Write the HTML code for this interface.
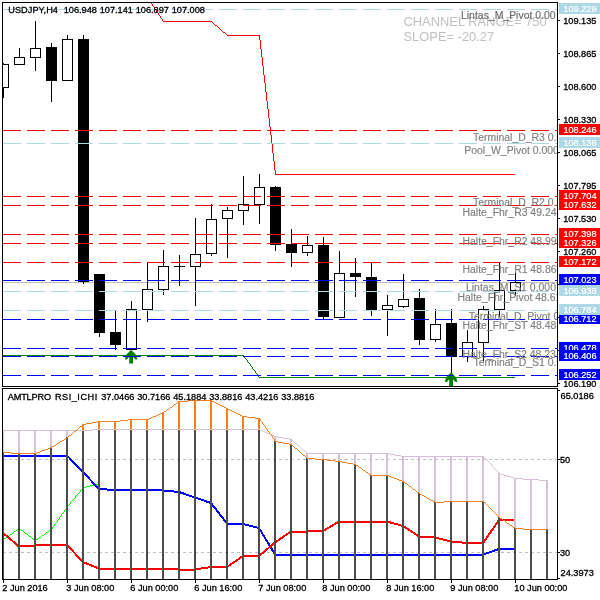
<!DOCTYPE html>
<html lang="en"><head><meta charset="utf-8"><title>USDJPY,H4</title>
<style>html,body{margin:0;padding:0;background:#fff}body{width:600px;height:600px;overflow:hidden}svg{display:block}text{font-family:"Liberation Sans",sans-serif}.c{shape-rendering:crispEdges}.ax{font-size:9px;fill:#000;stroke:#000;stroke-width:.3px;}.bx{font-size:9px;fill:#fff;stroke:#fff;stroke-width:.2px;}.lb{font-size:10.45px;fill:#808080;stroke:#808080;stroke-width:.15px}.ch{font-size:12.9px;fill:#c0c0c0}</style></head><body>
<svg width="600" height="600" viewBox="0 0 600 600">
<defs><clipPath id="m"><rect x="3" y="3" width="554" height="383"/></clipPath><clipPath id="s"><rect x="3" y="389" width="554" height="190"/></clipPath><clipPath id="r"><rect x="558" y="0" width="42" height="387"/></clipPath></defs>
<rect x="0" y="0" width="600" height="600" fill="#fff"/>
<g class="c" clip-path="url(#m)">
<rect x="3" y="282" width="554" height="1" fill="#C0C0C0"/>
<rect x="3" y="63" width="1" height="35" fill="#000"/>
<rect x="-2" y="64" width="11" height="24" fill="#000"/>
<rect x="-1" y="65" width="9" height="22" fill="#fff"/>
<rect x="19" y="48" width="1" height="17" fill="#000"/>
<rect x="14" y="57" width="11" height="8" fill="#000"/>
<rect x="15" y="58" width="9" height="6" fill="#fff"/>
<rect x="35" y="21" width="1" height="50" fill="#000"/>
<rect x="30" y="48" width="11" height="10" fill="#000"/>
<rect x="31" y="49" width="9" height="8" fill="#fff"/>
<rect x="51" y="43" width="1" height="59" fill="#000"/>
<rect x="46" y="47" width="11" height="34" fill="#000"/>
<rect x="67" y="35" width="1" height="46" fill="#000"/>
<rect x="62" y="39" width="11" height="42" fill="#000"/>
<rect x="63" y="40" width="9" height="40" fill="#fff"/>
<rect x="83" y="35" width="1" height="249" fill="#000"/>
<rect x="78" y="39" width="11" height="243" fill="#000"/>
<rect x="99" y="274" width="1" height="63" fill="#000"/>
<rect x="94" y="274" width="11" height="59" fill="#000"/>
<rect x="115" y="311" width="1" height="39" fill="#000"/>
<rect x="110" y="332" width="11" height="13" fill="#000"/>
<rect x="131" y="301" width="1" height="49" fill="#000"/>
<rect x="126" y="309" width="11" height="41" fill="#000"/>
<rect x="127" y="310" width="9" height="39" fill="#fff"/>
<rect x="147" y="262" width="1" height="60" fill="#000"/>
<rect x="142" y="289" width="11" height="21" fill="#000"/>
<rect x="143" y="290" width="9" height="19" fill="#fff"/>
<rect x="163" y="250" width="1" height="45" fill="#000"/>
<rect x="158" y="266" width="11" height="24" fill="#000"/>
<rect x="159" y="267" width="9" height="22" fill="#fff"/>
<rect x="179" y="255" width="1" height="31" fill="#000"/>
<rect x="174" y="266" width="11" height="1" fill="#000"/>
<rect x="195" y="218" width="1" height="88" fill="#000"/>
<rect x="190" y="254" width="11" height="13" fill="#000"/>
<rect x="191" y="255" width="9" height="11" fill="#fff"/>
<rect x="211" y="204" width="1" height="52" fill="#000"/>
<rect x="206" y="219" width="11" height="35" fill="#000"/>
<rect x="207" y="220" width="9" height="33" fill="#fff"/>
<rect x="227" y="207" width="1" height="51" fill="#000"/>
<rect x="222" y="210" width="11" height="9" fill="#000"/>
<rect x="223" y="211" width="9" height="7" fill="#fff"/>
<rect x="243" y="176" width="1" height="49" fill="#000"/>
<rect x="238" y="204" width="11" height="7" fill="#000"/>
<rect x="239" y="205" width="9" height="5" fill="#fff"/>
<rect x="259" y="174" width="1" height="50" fill="#000"/>
<rect x="254" y="187" width="11" height="18" fill="#000"/>
<rect x="255" y="188" width="9" height="16" fill="#fff"/>
<rect x="275" y="186" width="1" height="65" fill="#000"/>
<rect x="270" y="187" width="11" height="58" fill="#000"/>
<rect x="291" y="229" width="1" height="38" fill="#000"/>
<rect x="286" y="244" width="11" height="9" fill="#000"/>
<rect x="307" y="236" width="1" height="20" fill="#000"/>
<rect x="302" y="245" width="11" height="8" fill="#000"/>
<rect x="303" y="246" width="9" height="6" fill="#fff"/>
<rect x="323" y="237" width="1" height="83" fill="#000"/>
<rect x="318" y="245" width="11" height="72" fill="#000"/>
<rect x="339" y="251" width="1" height="67" fill="#000"/>
<rect x="334" y="273" width="11" height="45" fill="#000"/>
<rect x="335" y="274" width="9" height="43" fill="#fff"/>
<rect x="355" y="258" width="1" height="39" fill="#000"/>
<rect x="350" y="273" width="11" height="4" fill="#000"/>
<rect x="371" y="262" width="1" height="54" fill="#000"/>
<rect x="366" y="277" width="11" height="33" fill="#000"/>
<rect x="387" y="295" width="1" height="41" fill="#000"/>
<rect x="382" y="305" width="11" height="5" fill="#000"/>
<rect x="383" y="306" width="9" height="3" fill="#fff"/>
<rect x="403" y="274" width="1" height="34" fill="#000"/>
<rect x="398" y="299" width="11" height="8" fill="#000"/>
<rect x="399" y="300" width="9" height="6" fill="#fff"/>
<rect x="419" y="289" width="1" height="56" fill="#000"/>
<rect x="414" y="298" width="11" height="42" fill="#000"/>
<rect x="435" y="309" width="1" height="33" fill="#000"/>
<rect x="430" y="324" width="11" height="16" fill="#000"/>
<rect x="431" y="325" width="9" height="14" fill="#fff"/>
<rect x="451" y="309" width="1" height="64" fill="#000"/>
<rect x="446" y="323" width="11" height="34" fill="#000"/>
<rect x="467" y="330" width="1" height="32" fill="#000"/>
<rect x="462" y="342" width="11" height="15" fill="#000"/>
<rect x="463" y="343" width="9" height="13" fill="#fff"/>
<rect x="483" y="306" width="1" height="55" fill="#000"/>
<rect x="478" y="309" width="11" height="34" fill="#000"/>
<rect x="479" y="310" width="9" height="32" fill="#fff"/>
<rect x="499" y="262" width="1" height="55" fill="#000"/>
<rect x="494" y="290" width="11" height="20" fill="#000"/>
<rect x="495" y="291" width="9" height="18" fill="#fff"/>
<rect x="515" y="273" width="1" height="23" fill="#000"/>
<rect x="510" y="282" width="11" height="9" fill="#000"/>
<rect x="511" y="283" width="9" height="7" fill="#fff"/>
<path d="M163 21h49v1h-49zM215 25h2v1h-2zM223 32h2v1h-2zM227 35h33v1h-33zM275 174h240v1h-240zM147 -3h1v1h-1zM148 -2h1v2h-1zM149 0h1v1h-1zM150 1h1v2h-1zM151 3h1v1h-1zM152 4h1v2h-1zM153 6h1v1h-1zM154 7h1v2h-1zM155 9h1v1h-1zM156 10h1v2h-1zM157 12h1v1h-1zM158 13h1v2h-1zM159 15h1v1h-1zM160 16h1v2h-1zM161 18h1v1h-1zM162 19h1v2h-1zM212 22h1v1h-1zM213 23h1v1h-1zM214 24h1v1h-1zM217 26h1v1h-1zM218 27h1v1h-1zM219 28h1v1h-1zM220 29h1v1h-1zM221 30h1v1h-1zM222 31h1v1h-1zM225 33h1v1h-1zM226 34h1v1h-1zM259 36h1v4h-1zM260 40h1v9h-1zM261 49h1v8h-1zM262 57h1v9h-1zM263 66h1v9h-1zM264 75h1v8h-1zM265 83h1v9h-1zM266 92h1v9h-1zM267 101h1v8h-1zM268 109h1v9h-1zM269 118h1v9h-1zM270 127h1v8h-1zM271 135h1v9h-1zM272 144h1v9h-1zM273 153h1v8h-1zM274 161h1v9h-1zM275 170h1v4h-1z" fill="#FF0000"/>
<path d="M3 355h241v1h-241zM259 377h256v1h-256zM244 356h1v2h-1zM245 358h1v1h-1zM246 359h1v1h-1zM247 360h1v2h-1zM248 362h1v1h-1zM249 363h1v1h-1zM250 364h1v2h-1zM251 366h1v1h-1zM252 367h1v2h-1zM253 369h1v1h-1zM254 370h1v1h-1zM255 371h1v2h-1zM256 373h1v1h-1zM257 374h1v1h-1zM258 375h1v2h-1z" fill="#008000"/>
<path shape-rendering="auto" d="M131.1 349.8L136.4 355.3L137.2 359.6H135.29999999999998L133.0 356.8V363.6H129.2V356.8L126.89999999999999 359.6H125.0L125.8 355.3Z" fill="#008000"/>
<path shape-rendering="auto" d="M451.1 372.3L456.40000000000003 377.8L457.20000000000005 382.1H455.3L453.0 379.3V386.1H449.20000000000005V379.3L446.90000000000003 382.1H445.0L445.8 377.8Z" fill="#008000"/>
<path d="M3 9.5H557" stroke="#ADD8E6" stroke-width="1" stroke-dasharray="18 6" fill="none"/>
<path d="M3 130.5H557" stroke="#FF0000" stroke-width="1" stroke-dasharray="18 6" fill="none"/>
<path d="M3 143.5H557" stroke="#ADD8E6" stroke-width="1" stroke-dasharray="18 6" fill="none"/>
<path d="M3 196.5H557" stroke="#FF0000" stroke-width="1" stroke-dasharray="18 6" fill="none"/>
<path d="M3 205.5H557" stroke="#FF0000" stroke-width="1" stroke-dasharray="18 6" fill="none"/>
<path d="M3 234.5H557" stroke="#FF0000" stroke-width="1" stroke-dasharray="18 6" fill="none"/>
<path d="M3 243.5H557" stroke="#FF0000" stroke-width="1" stroke-dasharray="18 6" fill="none"/>
<path d="M3 262.5H557" stroke="#FF0000" stroke-width="1" stroke-dasharray="18 6" fill="none"/>
<path d="M3 280.5H557" stroke="#0000FF" stroke-width="1" stroke-dasharray="18 6" fill="none"/>
<path d="M3 291.5H557" stroke="#ADD8E6" stroke-width="1" stroke-dasharray="18 6" fill="none"/>
<path d="M3 310.5H557" stroke="#ADD8E6" stroke-width="1" stroke-dasharray="18 6" fill="none"/>
<path d="M3 319.5H557" stroke="#0000FF" stroke-width="1" stroke-dasharray="18 6" fill="none"/>
<path d="M3 348.5H557" stroke="#0000FF" stroke-width="1" stroke-dasharray="18 6" fill="none"/>
<path d="M3 356.5H557" stroke="#0000FF" stroke-width="1" stroke-dasharray="18 6" fill="none"/>
<path d="M3 375.5H557" stroke="#0000FF" stroke-width="1" stroke-dasharray="18 6" fill="none"/>
</g>
<g clip-path="url(#m)">
<text class="ch" x="403.5" y="26.2">CHANNEL RANGE= 750</text>
<text class="ch" x="403.5" y="40.7">SLOPE= -20.27</text>
<text class="lb" x="461" y="19.3" style="fill:#6a6a6a;stroke:#6a6a6a">Lintas_M_Pivot 0.00</text>
<text class="lb" x="473" y="140.7">Terminal_D_R3 0.00</text>
<text class="lb" x="464.3" y="153.7">Pool_W_Pivot 0.000</text>
<text class="lb" x="473" y="206.3">Terminal_D_R2 0.00</text>
<text class="lb" x="462.5" y="215.5">Halte_Fhr_R3 49.24</text>
<text class="lb" x="462.5" y="244.5">Halte_Fhr_R2 48.99</text>
<text class="lb" x="462.5" y="272.5">Halte_Fhr_R1 48.86</text>
<text class="lb" x="466" y="291.2">Lintas_M_S1 0.000</text>
<text class="lb" x="457.5" y="301.2">Halte_Fhr_Pivot 48.61</text>
<text class="lb" x="468.7" y="320">Terminal_D_Pivot 0.00</text>
<text class="lb" x="462.5" y="329.2">Halte_Fhr_ST 48.48</text>
<text class="lb" x="462.5" y="357.5">Halte_Fhr_S2 48.23</text>
<text class="lb" x="473.5" y="366.2">Terminal_D_S1 0.00</text>
<text class="ax" transform="translate(8.3 13.4) scale(1.02 1.075)" textLength="48.63" lengthAdjust="spacing">USDJPY,H4</text>
<text class="ax" transform="translate(63.7 13.4) scale(1.02 1.075)">106.948</text>
<text class="ax" transform="translate(99.7 13.4) scale(1.02 1.075)">107.141</text>
<text class="ax" transform="translate(135.7 13.4) scale(1.02 1.075)">106.897</text>
<text class="ax" transform="translate(171.7 13.4) scale(1.02 1.075)">107.008</text>
</g>
<g class="c" clip-path="url(#s)">
<path d="M3 459.5H557" stroke="#C0C0C0" stroke-width="1" stroke-dasharray="3 3" fill="none"/>
<path d="M3 552.5H557" stroke="#C0C0C0" stroke-width="1" stroke-dasharray="3 3" fill="none"/>
<path d="M98 483h2v1h-2zM94 484h4v1h-4zM90 485h4v1h-4zM86 486h4v1h-4zM83 487h3v1h-3zM17 529h2v1h-2zM21 530h2v1h-2zM49 530h2v1h-2zM14 531h2v1h-2zM46 532h2v1h-2zM25 533h2v1h-2zM10 534h2v1h-2zM42 535h2v1h-2zM7 536h2v1h-2zM29 536h2v1h-2zM39 537h2v1h-2zM4 538h2v1h-2zM33 539h2v1h-2zM36 539h2v1h-2zM3 539h1v1h-1zM6 537h1v1h-1zM9 535h1v1h-1zM12 533h1v1h-1zM13 532h1v1h-1zM16 530h1v1h-1zM19 528h1v1h-1zM20 529h1v1h-1zM23 531h1v1h-1zM24 532h1v1h-1zM27 534h1v1h-1zM28 535h1v1h-1zM31 537h1v1h-1zM32 538h1v1h-1zM35 540h1v1h-1zM38 538h1v1h-1zM41 536h1v1h-1zM44 534h1v1h-1zM45 533h1v1h-1zM48 531h1v1h-1zM51 529h1v1h-1zM52 527h1v2h-1zM53 526h1v1h-1zM54 524h1v2h-1zM55 523h1v1h-1zM56 522h1v1h-1zM57 520h1v2h-1zM58 519h1v1h-1zM59 517h1v2h-1zM60 516h1v1h-1zM61 514h1v2h-1zM62 513h1v1h-1zM63 512h1v1h-1zM64 510h1v2h-1zM65 509h1v1h-1zM66 507h1v2h-1zM67 506h1v1h-1zM68 505h1v1h-1zM69 504h1v1h-1zM70 502h1v2h-1zM71 501h1v1h-1zM72 500h1v1h-1zM73 499h1v1h-1zM74 498h1v1h-1zM75 496h1v2h-1zM76 495h1v1h-1zM77 494h1v1h-1zM78 493h1v1h-1zM79 492h1v1h-1zM80 490h1v2h-1zM81 489h1v1h-1zM82 488h1v1h-1z" fill="#00FF00"/>
<polyline points="3,455.5 67,455.5 83,472 99,489 115,490 163,490.4 179,492 195,497.5 211,503 227,523.5 243,524 259,528 275,554.5 483,554.5 499,549 514,549" fill="none" stroke="#0000FF" stroke-width="2"/>
<polyline points="3,533 19,546.5 35,545.5 51,545 67,545 83,562 99,568.5 163,568.5 179,569.5 195,569.5 211,567 227,567 243,556 259,556 275,542.5 291,531.5 307,531.5 323,531 339,521.5 387,521.5 403,526 419,536.5 435,537.5 451,541.5 467,543 483,543 499,520 514,520" fill="none" stroke="#FF0000" stroke-width="2"/>
<rect x="2" y="452" width="2" height="127" fill="#4c4c4c"/>
<rect x="2" y="430" width="2" height="22" fill="#D8BFD8"/>
<rect x="18" y="453" width="2" height="126" fill="#4c4c4c"/>
<rect x="18" y="430" width="2" height="23" fill="#D8BFD8"/>
<rect x="34" y="453" width="2" height="126" fill="#4c4c4c"/>
<rect x="34" y="430" width="2" height="23" fill="#D8BFD8"/>
<rect x="50" y="447" width="2" height="132" fill="#4c4c4c"/>
<rect x="50" y="430" width="2" height="17" fill="#D8BFD8"/>
<rect x="66" y="437" width="2" height="142" fill="#4c4c4c"/>
<rect x="66" y="430" width="2" height="7" fill="#D8BFD8"/>
<rect x="82" y="430" width="2" height="149" fill="#4c4c4c"/>
<rect x="82" y="424" width="2" height="6" fill="#F08020"/>
<rect x="98" y="429" width="2" height="150" fill="#4c4c4c"/>
<rect x="98" y="421" width="2" height="8" fill="#F08020"/>
<rect x="114" y="429" width="2" height="150" fill="#4c4c4c"/>
<rect x="114" y="421" width="2" height="8" fill="#F08020"/>
<rect x="130" y="429" width="2" height="150" fill="#4c4c4c"/>
<rect x="130" y="419" width="2" height="10" fill="#F08020"/>
<rect x="146" y="429" width="2" height="150" fill="#4c4c4c"/>
<rect x="146" y="419" width="2" height="10" fill="#F08020"/>
<rect x="162" y="429" width="2" height="150" fill="#4c4c4c"/>
<rect x="162" y="412" width="2" height="17" fill="#F08020"/>
<rect x="178" y="429" width="2" height="150" fill="#4c4c4c"/>
<rect x="178" y="401" width="2" height="28" fill="#F08020"/>
<rect x="194" y="429" width="2" height="150" fill="#4c4c4c"/>
<rect x="194" y="400" width="2" height="29" fill="#F08020"/>
<rect x="210" y="429" width="2" height="150" fill="#4c4c4c"/>
<rect x="210" y="400" width="2" height="29" fill="#F08020"/>
<rect x="226" y="429" width="2" height="150" fill="#4c4c4c"/>
<rect x="226" y="408" width="2" height="21" fill="#F08020"/>
<rect x="242" y="429" width="2" height="150" fill="#4c4c4c"/>
<rect x="242" y="416" width="2" height="13" fill="#F08020"/>
<rect x="258" y="429" width="2" height="150" fill="#4c4c4c"/>
<rect x="258" y="418" width="2" height="11" fill="#F08020"/>
<rect x="274" y="441" width="2" height="138" fill="#4c4c4c"/>
<rect x="274" y="436" width="2" height="5" fill="#D8BFD8"/>
<rect x="290" y="444" width="2" height="135" fill="#4c4c4c"/>
<rect x="290" y="439" width="2" height="5" fill="#D8BFD8"/>
<rect x="306" y="458" width="2" height="121" fill="#4c4c4c"/>
<rect x="306" y="453" width="2" height="5" fill="#D8BFD8"/>
<rect x="322" y="459" width="2" height="120" fill="#4c4c4c"/>
<rect x="322" y="453" width="2" height="6" fill="#D8BFD8"/>
<rect x="338" y="461" width="2" height="118" fill="#4c4c4c"/>
<rect x="338" y="453" width="2" height="8" fill="#D8BFD8"/>
<rect x="354" y="464" width="2" height="115" fill="#4c4c4c"/>
<rect x="354" y="453" width="2" height="11" fill="#D8BFD8"/>
<rect x="370" y="475" width="2" height="104" fill="#4c4c4c"/>
<rect x="370" y="453" width="2" height="22" fill="#D8BFD8"/>
<rect x="386" y="475" width="2" height="104" fill="#4c4c4c"/>
<rect x="386" y="453" width="2" height="22" fill="#D8BFD8"/>
<rect x="402" y="481" width="2" height="98" fill="#4c4c4c"/>
<rect x="402" y="456" width="2" height="25" fill="#D8BFD8"/>
<rect x="418" y="493" width="2" height="86" fill="#4c4c4c"/>
<rect x="418" y="456" width="2" height="37" fill="#D8BFD8"/>
<rect x="434" y="502" width="2" height="77" fill="#4c4c4c"/>
<rect x="434" y="456" width="2" height="46" fill="#D8BFD8"/>
<rect x="450" y="501" width="2" height="78" fill="#4c4c4c"/>
<rect x="450" y="456" width="2" height="45" fill="#D8BFD8"/>
<rect x="466" y="501" width="2" height="78" fill="#4c4c4c"/>
<rect x="466" y="456" width="2" height="45" fill="#D8BFD8"/>
<rect x="482" y="501" width="2" height="78" fill="#4c4c4c"/>
<rect x="482" y="456" width="2" height="45" fill="#D8BFD8"/>
<rect x="498" y="517" width="2" height="62" fill="#4c4c4c"/>
<rect x="498" y="473" width="2" height="44" fill="#D8BFD8"/>
<rect x="514" y="528" width="2" height="51" fill="#4c4c4c"/>
<rect x="514" y="478" width="2" height="50" fill="#D8BFD8"/>
<rect x="530" y="529" width="2" height="50" fill="#4c4c4c"/>
<rect x="530" y="479" width="2" height="50" fill="#D8BFD8"/>
<rect x="546" y="529" width="2" height="50" fill="#4c4c4c"/>
<rect x="546" y="480" width="2" height="49" fill="#D8BFD8"/>
<path d="M92 429h169v1h-169zM3 430h89v1h-89zM261 430h2v1h-2zM263 431h2v1h-2zM265 432h2v1h-2zM267 433h3v1h-3zM270 434h2v1h-2zM272 435h2v1h-2zM274 436h4v1h-4zM278 437h5v1h-5zM283 438h6v1h-6zM289 439h3v1h-3zM295 443h2v1h-2zM303 450h2v1h-2zM307 453h83v1h-83zM390 454h5v1h-5zM395 455h6v1h-6zM401 456h83v1h-83zM499 473h2v1h-2zM501 474h3v1h-3zM504 475h3v1h-3zM507 476h4v1h-4zM511 477h3v1h-3zM514 478h9v1h-9zM523 479h16v1h-16zM539 480h9v1h-9zM292 440h1v1h-1zM293 441h1v1h-1zM294 442h1v1h-1zM297 444h1v1h-1zM298 445h1v1h-1zM299 446h1v1h-1zM300 447h1v1h-1zM301 448h1v1h-1zM302 449h1v1h-1zM305 451h1v1h-1zM306 452h1v1h-1zM484 457h1v1h-1zM485 458h1v1h-1zM486 459h1v1h-1zM487 460h1v1h-1zM488 461h1v1h-1zM489 462h1v1h-1zM490 463h1v1h-1zM491 464h1v2h-1zM492 466h1v1h-1zM493 467h1v1h-1zM494 468h1v1h-1zM495 469h1v1h-1zM496 470h1v1h-1zM497 471h1v1h-1zM498 472h1v1h-1z" fill="#D8BFD8"/>
<path d="M188 400h24v1h-24zM179 401h9v1h-9zM212 401h2v1h-2zM177 402h2v1h-2zM214 402h2v1h-2zM216 403h2v1h-2zM174 404h2v1h-2zM218 404h2v1h-2zM220 405h2v1h-2zM222 406h2v1h-2zM170 407h2v1h-2zM224 407h2v1h-2zM226 408h2v1h-2zM167 409h2v1h-2zM228 409h2v1h-2zM230 410h2v1h-2zM164 411h2v1h-2zM232 411h2v1h-2zM162 412h2v1h-2zM234 412h2v1h-2zM160 413h2v1h-2zM236 413h2v1h-2zM158 414h2v1h-2zM238 414h2v1h-2zM156 415h2v1h-2zM240 415h2v1h-2zM153 416h3v1h-3zM242 416h5v1h-5zM151 417h2v1h-2zM247 417h8v1h-8zM149 418h2v1h-2zM255 418h5v1h-5zM128 419h21v1h-21zM120 420h8v1h-8zM97 421h23v1h-23zM92 422h5v1h-5zM86 423h6v1h-6zM83 424h3v1h-3zM80 426h2v1h-2zM74 431h2v1h-2zM69 435h2v1h-2zM65 438h2v1h-2zM62 440h2v1h-2zM60 441h2v1h-2zM275 441h3v1h-3zM278 442h5v1h-5zM57 443h2v1h-2zM283 443h6v1h-6zM289 444h3v1h-3zM54 445h2v1h-2zM52 446h2v1h-2zM50 447h2v1h-2zM48 448h2v1h-2zM295 448h2v1h-2zM45 449h3v1h-3zM42 450h3v1h-3zM40 451h2v1h-2zM3 452h8v1h-8zM37 452h3v1h-3zM11 453h26v1h-26zM303 455h2v1h-2zM307 458h8v1h-8zM315 459h12v1h-12zM327 460h8v1h-8zM335 461h7v1h-7zM342 462h5v1h-5zM347 463h6v1h-6zM353 464h3v1h-3zM356 465h2v1h-2zM359 467h2v1h-2zM363 470h2v1h-2zM366 472h2v1h-2zM369 474h2v1h-2zM371 475h18v1h-18zM389 476h2v1h-2zM391 477h3v1h-3zM394 478h3v1h-3zM397 479h2v1h-2zM399 480h3v1h-3zM402 481h2v1h-2zM405 483h2v1h-2zM409 486h2v1h-2zM413 489h2v1h-2zM417 492h2v1h-2zM420 494h2v1h-2zM422 495h2v1h-2zM424 496h2v1h-2zM427 498h2v1h-2zM429 499h2v1h-2zM431 500h2v1h-2zM433 501h2v1h-2zM444 501h40v1h-40zM435 502h9v1h-9zM500 518h2v1h-2zM503 520h2v1h-2zM507 523h2v1h-2zM510 525h2v1h-2zM513 527h2v1h-2zM515 528h8v1h-8zM523 529h25v1h-25zM56 444h1v1h-1zM59 442h1v1h-1zM64 439h1v1h-1zM67 437h1v1h-1zM68 436h1v1h-1zM71 434h1v1h-1zM72 433h1v1h-1zM73 432h1v1h-1zM76 430h1v1h-1zM77 429h1v1h-1zM78 428h1v1h-1zM79 427h1v1h-1zM82 425h1v1h-1zM166 410h1v1h-1zM169 408h1v1h-1zM172 406h1v1h-1zM173 405h1v1h-1zM176 403h1v1h-1zM260 419h1v2h-1zM261 421h1v1h-1zM262 422h1v2h-1zM263 424h1v1h-1zM264 425h1v1h-1zM265 426h1v2h-1zM266 428h1v1h-1zM267 429h1v2h-1zM268 431h1v1h-1zM269 432h1v2h-1zM270 434h1v1h-1zM271 435h1v1h-1zM272 436h1v2h-1zM273 438h1v1h-1zM274 439h1v2h-1zM292 445h1v1h-1zM293 446h1v1h-1zM294 447h1v1h-1zM297 449h1v1h-1zM298 450h1v1h-1zM299 451h1v1h-1zM300 452h1v1h-1zM301 453h1v1h-1zM302 454h1v1h-1zM305 456h1v1h-1zM306 457h1v1h-1zM358 466h1v1h-1zM361 468h1v1h-1zM362 469h1v1h-1zM365 471h1v1h-1zM368 473h1v1h-1zM404 482h1v1h-1zM407 484h1v1h-1zM408 485h1v1h-1zM411 487h1v1h-1zM412 488h1v1h-1zM415 490h1v1h-1zM416 491h1v1h-1zM419 493h1v1h-1zM426 497h1v1h-1zM484 502h1v1h-1zM485 503h1v1h-1zM486 504h1v1h-1zM487 505h1v1h-1zM488 506h1v1h-1zM489 507h1v1h-1zM490 508h1v1h-1zM491 509h1v1h-1zM492 510h1v1h-1zM493 511h1v1h-1zM494 512h1v1h-1zM495 513h1v1h-1zM496 514h1v1h-1zM497 515h1v1h-1zM498 516h1v1h-1zM499 517h1v1h-1zM502 519h1v1h-1zM505 521h1v1h-1zM506 522h1v1h-1zM509 524h1v1h-1zM512 526h1v1h-1z" fill="#F08020"/>
</g>
<text class="ax" transform="translate(7.7 400.3) scale(1.02 1.075)" textLength="42.55" lengthAdjust="spacing">AMTLPRO</text>
<text class="ax" transform="translate(55 400.3) scale(1.02 1.075)" textLength="41.37" lengthAdjust="spacing">RSI_ICHI</text>
<text class="ax" transform="translate(101.2 400.3) scale(1.02 1.075)">37.0466</text>
<text class="ax" transform="translate(137.2 400.3) scale(1.02 1.075)">30.7166</text>
<text class="ax" transform="translate(173.2 400.3) scale(1.02 1.075)">45.1884</text>
<text class="ax" transform="translate(209.2 400.3) scale(1.02 1.075)">33.8816</text>
<text class="ax" transform="translate(245.2 400.3) scale(1.02 1.075)">43.4216</text>
<text class="ax" transform="translate(281.2 400.3) scale(1.02 1.075)">33.8816</text>
<g class="c">
<rect x="2" y="2" width="556" height="1" fill="#000"/>
<rect x="2" y="2" width="1" height="385" fill="#000"/>
<rect x="557" y="2" width="1" height="385" fill="#000"/>
<rect x="2" y="386" width="556" height="1" fill="#000"/>
<rect x="2" y="388" width="556" height="1" fill="#000"/>
<rect x="2" y="388" width="1" height="192" fill="#000"/>
<rect x="557" y="388" width="1" height="192" fill="#000"/>
<rect x="2" y="579" width="556" height="1" fill="#000"/>
<rect x="558" y="20" width="2" height="1" fill="#000"/>
<rect x="558" y="53" width="2" height="1" fill="#000"/>
<rect x="558" y="86" width="2" height="1" fill="#000"/>
<rect x="558" y="119" width="2" height="1" fill="#000"/>
<rect x="558" y="152" width="2" height="1" fill="#000"/>
<rect x="558" y="185" width="2" height="1" fill="#000"/>
<rect x="558" y="218" width="2" height="1" fill="#000"/>
<rect x="558" y="251" width="2" height="1" fill="#000"/>
<rect x="558" y="284" width="2" height="1" fill="#000"/>
<rect x="558" y="317" width="2" height="1" fill="#000"/>
<rect x="558" y="350" width="2" height="1" fill="#000"/>
<rect x="558" y="383" width="2" height="1" fill="#000"/>
<rect x="558" y="390" width="2" height="1" fill="#000"/>
<rect x="558" y="459" width="2" height="1" fill="#000"/>
<rect x="558" y="552" width="2" height="1" fill="#000"/>
<rect x="558" y="578" width="2" height="1" fill="#000"/>
<rect x="3" y="580" width="1" height="3" fill="#000"/>
<rect x="67" y="580" width="1" height="3" fill="#000"/>
<rect x="131" y="580" width="1" height="3" fill="#000"/>
<rect x="195" y="580" width="1" height="3" fill="#000"/>
<rect x="259" y="580" width="1" height="3" fill="#000"/>
<rect x="323" y="580" width="1" height="3" fill="#000"/>
<rect x="387" y="580" width="1" height="3" fill="#000"/>
<rect x="451" y="580" width="1" height="3" fill="#000"/>
<rect x="515" y="580" width="1" height="3" fill="#000"/>
</g>
<g clip-path="url(#r)">
<text class="ax" transform="translate(563.2 23.8) scale(1.02 1.075)">109.135</text>
<text class="ax" transform="translate(563.2 56.8) scale(1.02 1.075)">108.865</text>
<text class="ax" transform="translate(563.2 89.8) scale(1.02 1.075)">108.600</text>
<text class="ax" transform="translate(563.2 122.8) scale(1.02 1.075)">108.330</text>
<text class="ax" transform="translate(563.2 155.8) scale(1.02 1.075)">108.065</text>
<text class="ax" transform="translate(563.2 188.8) scale(1.02 1.075)">107.795</text>
<text class="ax" transform="translate(563.2 221.8) scale(1.02 1.075)">107.530</text>
<text class="ax" transform="translate(563.2 254.8) scale(1.02 1.075)">107.260</text>
<text class="ax" transform="translate(563.2 287.8) scale(1.02 1.075)">106.990</text>
<text class="ax" transform="translate(563.2 320.8) scale(1.02 1.075)">106.725</text>
<text class="ax" transform="translate(563.2 353.8) scale(1.02 1.075)">106.455</text>
<text class="ax" transform="translate(563.2 386.8) scale(1.02 1.075)">106.190</text>
<g class="c">
<rect x="559" y="3" width="41" height="11" fill="#ADD8E6"/>
<rect x="559" y="124" width="41" height="11" fill="#FF0000"/>
<rect x="559" y="137" width="41" height="11" fill="#ADD8E6"/>
<rect x="559" y="190" width="41" height="11" fill="#FF0000"/>
<rect x="559" y="199" width="41" height="11" fill="#FF0000"/>
<rect x="559" y="228" width="41" height="11" fill="#FF0000"/>
<rect x="559" y="237" width="41" height="11" fill="#FF0000"/>
<rect x="559" y="256" width="41" height="11" fill="#FF0000"/>
<rect x="559" y="274" width="41" height="11" fill="#0000FF"/>
<rect x="559" y="285" width="41" height="11" fill="#ADD8E6"/>
<rect x="559" y="313" width="41" height="11" fill="#0000FF"/>
<rect x="559" y="304" width="41" height="11" fill="#ADD8E6"/>
<rect x="559" y="342" width="41" height="11" fill="#0000FF"/>
<rect x="559" y="350" width="41" height="11" fill="#0000FF"/>
<rect x="559" y="369" width="41" height="11" fill="#0000FF"/>
</g>
</g>
<g clip-path="url(#r)">
<rect class="c" x="559" y="3" width="41" height="11" fill="#ADD8E6"/>
<text class="bx" transform="translate(563.4 11.5) scale(1.02 1.075)">109.229</text>
<rect class="c" x="559" y="124" width="41" height="11" fill="#FF0000"/>
<text class="bx" transform="translate(563.4 132.5) scale(1.02 1.075)">108.246</text>
<rect class="c" x="559" y="137" width="41" height="11" fill="#ADD8E6"/>
<text class="bx" transform="translate(563.4 145.5) scale(1.02 1.075)">108.138</text>
<rect class="c" x="559" y="190" width="41" height="11" fill="#FF0000"/>
<text class="bx" transform="translate(563.4 198.5) scale(1.02 1.075)">107.704</text>
<rect class="c" x="559" y="199" width="41" height="11" fill="#FF0000"/>
<text class="bx" transform="translate(563.4 207.5) scale(1.02 1.075)">107.632</text>
<rect class="c" x="559" y="228" width="41" height="11" fill="#FF0000"/>
<text class="bx" transform="translate(563.4 236.5) scale(1.02 1.075)">107.398</text>
<rect class="c" x="559" y="237" width="41" height="11" fill="#FF0000"/>
<text class="bx" transform="translate(563.4 245.5) scale(1.02 1.075)">107.326</text>
<rect class="c" x="559" y="256" width="41" height="11" fill="#FF0000"/>
<text class="bx" transform="translate(563.4 264.5) scale(1.02 1.075)">107.172</text>
<rect class="c" x="559" y="274" width="41" height="11" fill="#0000FF"/>
<text class="bx" transform="translate(563.4 282.5) scale(1.02 1.075)">107.023</text>
<rect class="c" x="559" y="285" width="41" height="11" fill="#ADD8E6"/>
<text class="bx" transform="translate(563.4 293.5) scale(1.02 1.075)">106.938</text>
<rect class="c" x="559" y="313" width="41" height="11" fill="#0000FF"/>
<text class="bx" transform="translate(563.4 321.5) scale(1.02 1.075)">106.712</text>
<rect class="c" x="559" y="304" width="41" height="11" fill="#ADD8E6"/>
<text class="bx" transform="translate(563.4 312.5) scale(1.02 1.075)">106.784</text>
<rect class="c" x="559" y="342" width="41" height="11" fill="#0000FF"/>
<text class="bx" transform="translate(563.4 350.5) scale(1.02 1.075)">106.478</text>
<rect class="c" x="559" y="350" width="41" height="11" fill="#0000FF"/>
<text class="bx" transform="translate(563.4 358.5) scale(1.02 1.075)">106.406</text>
<rect class="c" x="559" y="369" width="41" height="11" fill="#0000FF"/>
<text class="bx" transform="translate(563.4 377.5) scale(1.02 1.075)">106.252</text>
</g>
<text class="ax" transform="translate(560.6 398.7) scale(1.02 1.075)">65.0186</text>
<text class="ax" transform="translate(559.9 462.8) scale(1.02 1.075)">50</text>
<text class="ax" transform="translate(559.9 555.8) scale(1.02 1.075)">30</text>
<text class="ax" transform="translate(560.6 575.8) scale(1.02 1.075)">24.3973</text>
<text class="ax" transform="translate(2.3 591.4) scale(1.02 1.075)">2 Jun 2016</text>
<text class="ax" transform="translate(66.3 591.4) scale(1.02 1.075)">3 Jun 08:00</text>
<text class="ax" transform="translate(130.3 591.4) scale(1.02 1.075)">6 Jun 00:00</text>
<text class="ax" transform="translate(194.3 591.4) scale(1.02 1.075)">6 Jun 16:00</text>
<text class="ax" transform="translate(258.3 591.4) scale(1.02 1.075)">7 Jun 08:00</text>
<text class="ax" transform="translate(322.3 591.4) scale(1.02 1.075)">8 Jun 00:00</text>
<text class="ax" transform="translate(386.3 591.4) scale(1.02 1.075)">8 Jun 16:00</text>
<text class="ax" transform="translate(450.3 591.4) scale(1.02 1.075)">9 Jun 08:00</text>
<text class="ax" transform="translate(514.3 591.4) scale(1.02 1.075)">10 Jun 00:00</text>
</svg></body></html>
